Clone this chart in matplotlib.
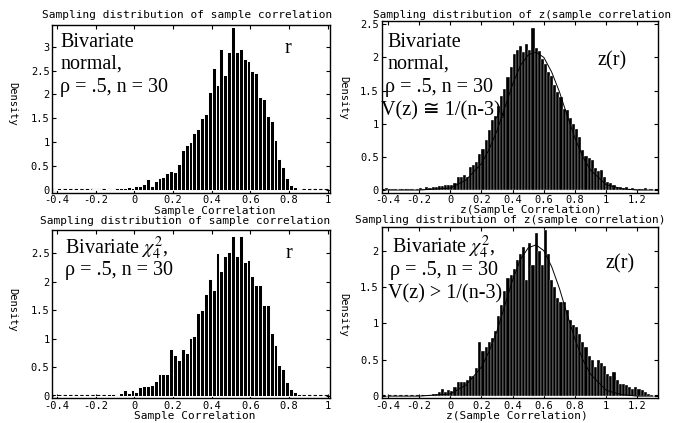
import matplotlib

matplotlib.use("Agg")

import matplotlib.pyplot as plt
import numpy as np
from matplotlib.ticker import FuncFormatter

plt.rcParams["axes.unicode_minus"] = False
plt.rcParams["mathtext.fontset"] = "stix"

BIN_WIDTH = 0.02
R_START = -0.41   # centre of first bin, r panels
Z_START = -0.41   # centre of first bin, z panels

# density of sample correlation r, bivariate normal
r_normal = [
    0.02, 0.04, 0, 0, 0, 0, 0, 0, 0, 0,
    0.02, 0.02, 0, 0, 0.02, 0.02, 0.04, 0.04, 0.04, 0.06,
    0.04, 0.08, 0.10, 0.13, 0.23, 0.10, 0.20, 0.25, 0.27, 0.37,
    0.40, 0.38, 0.55, 0.85, 0.94, 1.00, 1.20, 1.28, 1.50, 1.60,
    2.05, 2.55, 2.20, 2.95, 2.40, 2.88, 3.40, 2.88, 2.95, 2.75,
    2.70, 2.50, 2.45, 1.95, 1.90, 1.55, 1.45, 1.05, 0.65, 0.48,
    0.26, 0.12, 0.06, 0.03, 0, 0,
]

# density of z(r), bivariate normal
z_normal = [
    0.03, 0.02, 0.02, 0.02, 0, 0.02, 0, 0.02, 0.02, 0,
    0.02, 0.03, 0.02, 0.04, 0.03, 0.05, 0.04, 0.06, 0.06, 0.07,
    0.08, 0.08, 0.10, 0.20, 0.20, 0.22, 0.20, 0.35, 0.38, 0.42,
    0.55, 0.62, 0.75, 0.90, 1.05, 1.12, 1.27, 1.42, 1.52, 1.70,
    1.85, 2.05, 2.12, 2.17, 2.08, 2.20, 2.12, 2.45, 2.15, 2.10,
    1.98, 1.90, 1.78, 1.72, 1.58, 1.48, 1.40, 1.22, 1.20, 1.08,
    1.00, 0.92, 0.80, 0.60, 0.52, 0.48, 0.46, 0.33, 0.28, 0.30,
    0.20, 0.12, 0.10, 0.08, 0.05, 0.05, 0.03, 0.04, 0.02, 0.03,
    0.02, 0, 0.02, 0.03, 0, 0.02,
]

# density of r, bivariate chi-square(4)
r_chisq = [
    0, 0, 0, 0, 0, 0, 0, 0, 0, 0,
    0, 0, 0, 0, 0.03, 0.03, 0.02, 0.05, 0.10, 0.06,
    0.10, 0.07, 0.16, 0.17, 0.17, 0.20, 0.26, 0.38, 0.38, 0.38,
    0.82, 0.72, 0.63, 0.82, 0.75, 1.02, 1.05, 1.45, 1.50, 1.78,
    2.05, 1.85, 2.50, 2.20, 2.45, 2.52, 2.80, 2.45, 2.80, 2.35,
    2.38, 2.10, 1.95, 1.95, 1.60, 1.60, 1.10, 0.90, 0.55, 0.48,
    0.25, 0.12, 0.07, 0.04, 0, 0,
]

# density of z(r), bivariate chi-square(4)
z_chisq = [
    0, 0, 0, 0, 0, 0, 0, 0, 0, 0,
    0, 0, 0, 0.02, 0.02, 0.03, 0.03, 0.06, 0.10, 0.05,
    0.08, 0.07, 0.12, 0.20, 0.20, 0.20, 0.22, 0.28, 0.28, 0.38,
    0.75, 0.62, 0.67, 0.75, 0.80, 0.90, 1.10, 1.25, 1.45, 1.62,
    1.66, 1.75, 1.87, 1.95, 2.05, 1.60, 2.10, 1.80, 2.25, 2.00,
    1.80, 2.28, 1.95, 1.60, 1.50, 1.35, 1.30, 1.30, 1.18, 1.05,
    0.98, 0.95, 0.85, 0.75, 0.68, 0.55, 0.50, 0.40, 0.50, 0.45,
    0.42, 0.31, 0.27, 0.33, 0.22, 0.17, 0.17, 0.15, 0.12, 0.10,
    0.12, 0.10, 0.08, 0.05, 0.03, 0.02,
]

# normal approximation curve for z(r)
curve_x = [-0.4, -0.2, 0.0, 0.1, 0.2, 0.25, 0.3, 0.35, 0.4, 0.45, 0.5, 0.55,
           0.6, 0.65, 0.7, 0.75, 0.8, 0.85, 0.9, 1.0, 1.1, 1.2, 1.3]
curve_y = [0.0, 0.0, 0.03, 0.15, 0.40, 0.62, 0.90, 1.25, 1.60, 1.88, 2.04, 2.08,
           2.00, 1.78, 1.48, 1.12, 0.78, 0.50, 0.30, 0.08, 0.02, 0.0, 0.0]

r_xticks = [-0.4, -0.2, 0, 0.2, 0.4, 0.6, 0.8, 1]
z_xticks = [-0.4, -0.2, 0, 0.2, 0.4, 0.6, 0.8, 1, 1.2]

W, H = 673, 423
MONO = "DejaVu Sans Mono"
SERIF = ["Liberation Serif", "DejaVu Serif", "DejaVu Sans"]


def px(x, y):
    return x / W, 1 - y / H


def box(left, top, right, bottom):
    return [left / W, 1 - bottom / H, (right - left) / W, (bottom - top) / H]


def fmt(v, pos):
    s = f"{v:g}"
    return "0" if s == "-0" else s


def draw_panel(ax, heights, start, xlim, ylim, xticks, yticks, thin):
    centers = start + BIN_WIDTH * np.arange(len(heights))
    ax.plot(xlim, [0.02, 0.02], color="black", lw=0.8, ls=(0, (3, 2)), zorder=1)
    ax.bar(centers, heights, width=BIN_WIDTH, color="black",
           edgecolor="white", linewidth=0.25 if thin else 0.7, zorder=2)
    ax.set_xlim(*xlim)
    ax.set_ylim(*ylim)
    ax.set_xticks(xticks)
    ax.set_yticks(yticks)
    ax.xaxis.set_major_formatter(FuncFormatter(fmt))
    ax.yaxis.set_major_formatter(FuncFormatter(fmt))
    ax.tick_params(direction="in", length=3, width=0.8, top=True, right=True,
                   labelsize=7.5, pad=2)
    for lab in ax.get_xticklabels() + ax.get_yticklabels():
        lab.set_family(MONO)
    for sp in ax.spines.values():
        sp.set_linewidth(1.0)


fig = plt.figure(figsize=(6.73, 4.23), dpi=100)

ax1 = fig.add_axes(box(52.3, 25, 330, 192.7))
draw_panel(ax1, r_normal, R_START, (-0.425, 1.012), (-0.05, 3.45), r_xticks,
           [0, 0.5, 1, 1.5, 2, 2.5, 3], False)

ax2 = fig.add_axes(box(381.7, 21, 657.7, 192.7))
draw_panel(ax2, z_normal, Z_START, (-0.44, 1.33), (-0.04, 2.55), z_xticks,
           [0, 0.5, 1, 1.5, 2, 2.5], True)
ax2.plot(curve_x, curve_y, color="black", lw=0.7, zorder=3)

ax3 = fig.add_axes(box(52.3, 230, 330, 398.3))
draw_panel(ax3, r_chisq, R_START, (-0.425, 1.012), (-0.04, 2.91), r_xticks,
           [0, 0.5, 1, 1.5, 2, 2.5], False)

ax4 = fig.add_axes(box(381.7, 226.7, 657.7, 398.3))
draw_panel(ax4, z_chisq, Z_START, (-0.44, 1.33), (-0.03, 2.33), z_xticks,
           [0, 0.5, 1, 1.5, 2], True)
ax4.plot(curve_x, curve_y, color="black", lw=0.7, zorder=3)

# titles, axis labels (pixel-style mono text)
mono_kw = dict(family=MONO, fontsize=8, ha="center", va="center")
fig.text(*px(187, 15), "Sampling distribution of sample correlation", **mono_kw)
fig.text(*px(671, 15), "Sampling distribution of z(sample correlation",
         family=MONO, fontsize=7.9, ha="right", va="center")
fig.text(*px(185, 221), "Sampling distribution of sample correlation", **mono_kw)
fig.text(*px(510, 220), "Sampling distribution of z(sample correlation)", **mono_kw)
fig.text(*px(215, 211), "Sample Correlation", **mono_kw)
fig.text(*px(531, 210), "z(Sample Correlation)", **mono_kw)
fig.text(*px(195, 416), "Sample Correlation", **mono_kw)
fig.text(*px(517, 416), "z(Sample Correlation)", **mono_kw)
for x, y in [(12, 104), (343, 98), (12, 310), (343, 315)]:
    fig.text(*px(x, y), "Density", family=MONO, fontsize=7.5, rotation=270,
             ha="center", va="center")

# panel annotations
ser = dict(family=SERIF, fontsize=14.5, ha="left", va="baseline")
fig.text(*px(60, 47), "Bivariate", **ser)
fig.text(*px(60, 69), "normal,", **ser)
fig.text(*px(60, 92), "ρ = .5, n = 30", **ser)
fig.text(*px(285, 53), "r", **ser)

fig.text(*px(387, 47), "Bivariate", **ser)
fig.text(*px(387, 69), "normal,", **ser)
fig.text(*px(385, 92), "ρ = .5, n = 30", **ser)
fig.text(*px(381, 115), "V(z) ≅ 1/(n-3),", **ser)
fig.text(*px(598, 65), "z(r)", **ser)

fig.text(*px(65, 254), r"Bivariate $\chi^2_4$,", **ser)
fig.text(*px(65, 275), "ρ = .5, n = 30", **ser)
fig.text(*px(286, 258), "r", **ser)

fig.text(*px(392, 253), r"Bivariate $\chi^2_4$,", **ser)
fig.text(*px(390, 275), "ρ = .5, n = 30", **ser)
fig.text(*px(388, 298), "V(z) > 1/(n-3)", **ser)
fig.text(*px(605, 268), "z(r)", **ser)

fig.savefig("out.png", dpi=100)
